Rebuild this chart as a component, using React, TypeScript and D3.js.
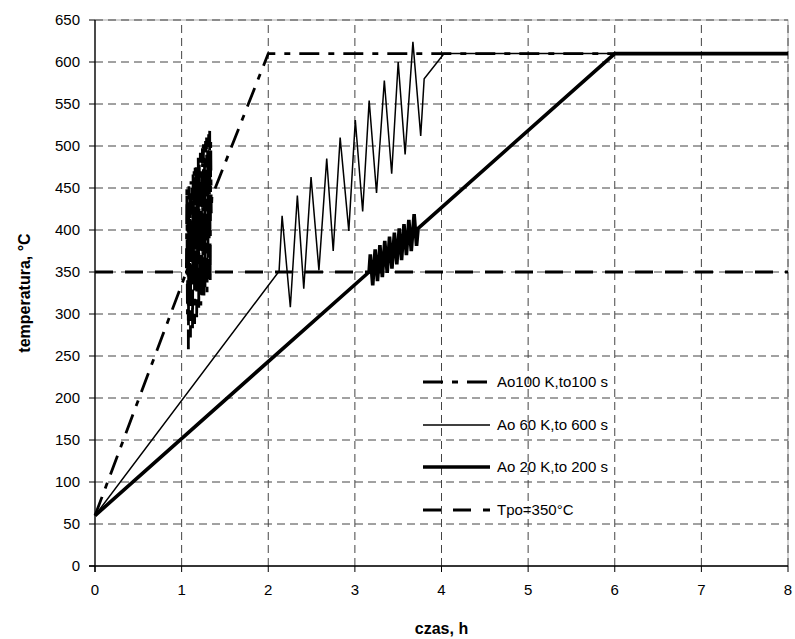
import React from 'react';
import * as d3 from 'd3';

const xTicks = [0, 1, 2, 3, 4, 5, 6, 7, 8];
const yTicks = [0, 50, 100, 150, 200, 250, 300, 350, 400, 450, 500, 550, 600, 650];

// Ao100 K, to100 s (dash-dot)
const seriesA100: [number, number][] = [
  [0, 60], [1.055, 350],
  [1.06, 450], [1.067, 300], [1.073, 430], [1.078, 258], [1.084, 452], [1.09, 320],
  [1.096, 440], [1.102, 272], [1.108, 458], [1.114, 335], [1.12, 450], [1.126, 280],
  [1.132, 466], [1.138, 345], [1.144, 470], [1.15, 288], [1.156, 474], [1.162, 350],
  [1.168, 478], [1.174, 296], [1.18, 470], [1.186, 330], [1.192, 486], [1.198, 305],
  [1.204, 480], [1.21, 345], [1.216, 492], [1.222, 310], [1.228, 470], [1.234, 320],
  [1.24, 498], [1.246, 360], [1.252, 502], [1.258, 318], [1.264, 480], [1.27, 330],
  [1.276, 506], [1.282, 375], [1.288, 510], [1.294, 326], [1.3, 495], [1.306, 340],
  [1.312, 514], [1.318, 390], [1.324, 518], [1.33, 336], [1.336, 505], [1.342, 420],
  [1.35, 440],
  [2, 610], [8, 610],
];

// Ao 60 K, to 600 s (thin)
const seriesA60: [number, number][] = [
  [0, 60], [2.125, 351], [2.16, 417], [2.255, 308], [2.336, 441], [2.41, 330],
  [2.494, 463], [2.585, 352], [2.675, 485], [2.75, 375], [2.83, 510], [2.93, 399],
  [3.005, 531], [3.09, 422], [3.165, 554], [3.25, 444], [3.34, 578], [3.425, 467],
  [3.5, 600], [3.58, 490], [3.67, 624], [3.76, 512], [3.8, 580], [4.03, 610], [8, 610],
];

// Ao 20 K, to 200 s (thick)
const seriesA20: [number, number][] = [
  [0, 60], [3.164, 350],
  [3.178, 371], [3.206, 334], [3.234, 377], [3.261, 339], [3.289, 382], [3.317, 344],
  [3.345, 387], [3.373, 349], [3.4, 392], [3.428, 354], [3.456, 397], [3.484, 359],
  [3.512, 402], [3.539, 364], [3.567, 407], [3.595, 370], [3.623, 412], [3.651, 375],
  [3.684, 419], [3.712, 381], [3.73, 402],
  [6, 610], [8, 610],
];

// Tpo = 350°C
const seriesTpo: [number, number][] = [[0, 350], [8, 350]];

const legendLabels = ['Ao100 K,to100 s', 'Ao 60 K,to 600 s', 'Ao 20 K,to 200 s', 'Tpo=350°C'];

const W = 795;
const H = 639;
const L = 95, R = 788, T = 20, B = 566;

export default function App() {
  const x = d3.scaleLinear().domain([0, 8]).range([L, R]);
  const y = d3.scaleLinear().domain([0, 650]).range([B, T]);
  const line = d3.line<[number, number]>().x(d => x(d[0])).y(d => y(d[1]));
  const font = 'Arial, "Liberation Sans", sans-serif';

  const styles = [
    { data: seriesA100, width: 2.8, dash: '20,9,6,9' },
    { data: seriesA60, width: 1.5, dash: undefined },
    { data: seriesA20, width: 3.6, dash: undefined },
    { data: seriesTpo, width: 3, dash: '18,12' },
  ];
  const legendY = [382, 425, 467, 510];

  return (
    <svg width={W} height={H} style={{ position: 'absolute', left: 0, top: 0, background: '#fff' }} fontFamily={font}>
      <rect x={0} y={0} width={W} height={H} fill="#fff" />
      <rect x={L} y={T} width={R - L} height={B - T} fill="none" stroke="#aaa" strokeWidth={1} />
      {yTicks.filter(v => v > 0).map(v => (
        <line key={'gy' + v} x1={L} x2={R} y1={y(v)} y2={y(v)} stroke="#444" strokeWidth={1} strokeDasharray="8,5" />
      ))}
      {xTicks.filter(v => v > 0).map(v => (
        <line key={'gx' + v} x1={x(v)} x2={x(v)} y1={B} y2={T} stroke="#444" strokeWidth={1} strokeDasharray="8,5" />
      ))}
      <line x1={L} x2={L} y1={T} y2={B + 6} stroke="#000" strokeWidth={1.3} />
      <line x1={L - 6} x2={R} y1={B} y2={B} stroke="#000" strokeWidth={1.3} />
      {yTicks.map(v => (
        <g key={'ty' + v}>
          <line x1={L - 6} x2={L} y1={y(v)} y2={y(v)} stroke="#000" strokeWidth={1} />
          <text x={L - 15} y={y(v)} dy="0.35em" textAnchor="end" fontSize={15}>{v}</text>
        </g>
      ))}
      {xTicks.map(v => (
        <g key={'tx' + v}>
          <line x1={x(v)} x2={x(v)} y1={B} y2={B + 6} stroke="#000" strokeWidth={1} />
          <text x={x(v)} y={B + 29} textAnchor="middle" fontSize={15}>{v}</text>
        </g>
      ))}
      <text x={(L + R) / 2} y={634} textAnchor="middle" fontSize={16} fontWeight="bold">czas, h</text>
      <text transform={`translate(30,${(T + B) / 2}) rotate(-90)`} textAnchor="middle" fontSize={16} fontWeight="bold">temperatura, °C</text>
      <defs>
        <clipPath id="clip"><rect x={L - 2} y={T - 10} width={R - L + 4} height={B - T + 12} /></clipPath>
      </defs>
      <g clipPath="url(#clip)">
        {styles.map((s, i) => (
          <path key={'s' + i} d={line(s.data) || ''} fill="none" stroke="#000" strokeWidth={s.width}
            strokeDasharray={s.dash} strokeLinejoin="miter" strokeMiterlimit={4} />
        ))}
      </g>
      {styles.map((s, i) => (
        <g key={'lg' + i}>
          <line x1={423} x2={490} y1={legendY[i]} y2={legendY[i]} stroke="#000" strokeWidth={s.width} strokeDasharray={s.dash} />
          <text x={497} y={legendY[i]} dy="0.35em" fontSize={15}>{legendLabels[i]}</text>
        </g>
      ))}
    </svg>
  );
}
